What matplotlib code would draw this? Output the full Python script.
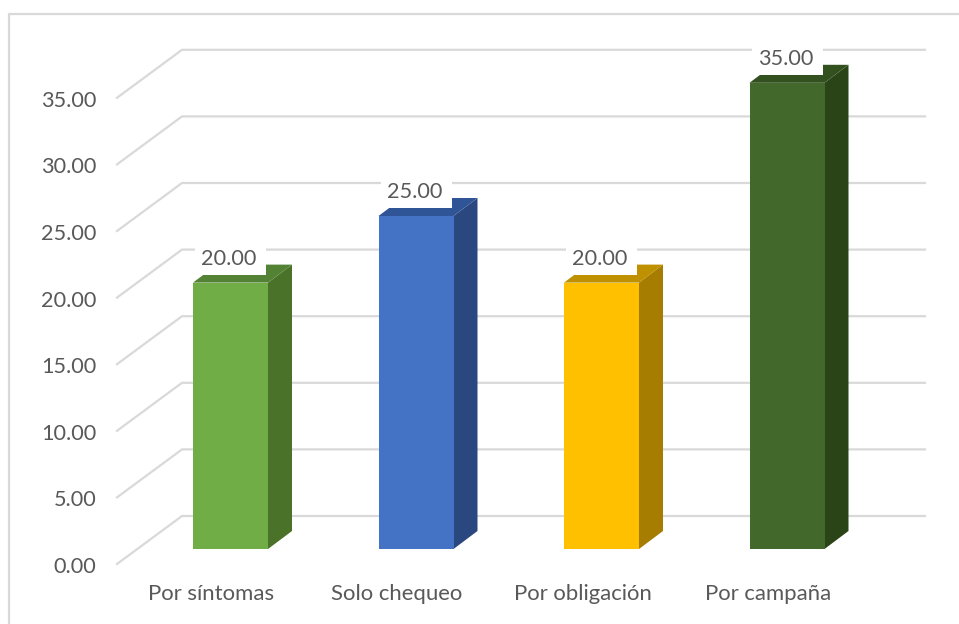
import matplotlib
matplotlib.use("Agg")
import matplotlib.pyplot as plt
from matplotlib.patches import Polygon, Rectangle

categories = ["Por síntomas", "Solo chequeo", "Por obligación", "Por campaña"]
values = [20, 25, 20, 35]
front_colors = ["#70AD47", "#4472C4", "#FFC000", "#43682B"]
side_colors = ["#4A7229", "#2A4780", "#A67D00", "#2A4418"]
top_colors = ["#548235", "#2F5597", "#BF9000", "#33501F"]
y_ticks = [0, 5, 10, 15, 20, 25, 30, 35]

W, H = 959, 624
X_UNIT = 185.5   # px per category
Y_UNIT = 13.32   # px per value
X0 = 230.5       # px of first category
Y0 = 549         # px of value 0 at bar front

plt.rcParams["font.family"] = ["Lato", "DejaVu Sans"]

fig = plt.figure(figsize=(W / 100, H / 100), dpi=100)
ax = fig.add_axes([0, 0, 1, 1])
ax.set_xlim(-X0 / X_UNIT, (W - X0) / X_UNIT)
ax.set_ylim((Y0 - H) / Y_UNIT, Y0 / Y_UNIT)
ax.axis("off")


def px_x(n):
    return n / X_UNIT


def px_y(n):
    return n / Y_UNIT


half = px_x(37.5)
dx = px_x(24)
dy = px_y(18)
wall_left = px_x(117 - X0)
wall_back = px_x(182 - X0)
wall_right = px_x(925 - X0)
front_shift = px_y(-15)
back_shift = px_y(33)

# outer frame of the picture
ax.plot([px_x(9 - X0), px_x(9 - X0), px_x(W - X0)],
        [(Y0 - H) / Y_UNIT, (Y0 - 13.5) / Y_UNIT, (Y0 - 13.5) / Y_UNIT],
        color="#D9D9D9", lw=1.6, zorder=1)

# gridlines on side wall and back wall
for t in y_ticks:
    ax.plot([wall_left, wall_back, wall_right],
            [t + front_shift, t + back_shift, t + back_shift],
            color="#D9D9D9", lw=1.6, zorder=1, solid_joinstyle="miter")
    ax.text(px_x(96.5 - X0), t + front_shift - px_y(3), f"{t:.2f}", ha="right", va="center",
            fontsize=15.6, color="#595959", zorder=5)

for i, v in enumerate(values):
    l, r = i - half, i + half
    ax.add_patch(Polygon([(r, 0), (r + dx, dy), (r + dx, v + dy), (r, v)],
                         color=side_colors[i], lw=0, zorder=2))
    ax.add_patch(Polygon([(l, v), (l + dx, v + dy), (r + dx, v + dy), (r, v)],
                         color=top_colors[i], lw=0, zorder=2))
    ax.add_patch(Rectangle((l, 0), 2 * half, v, color=front_colors[i], lw=0, zorder=3))
    # white box behind the data label hides part of the top face
    ax.add_patch(Rectangle((l + px_x(2), v + px_y(8)), 2 * half - px_x(4), px_y(27),
                           facecolor="white", lw=0, zorder=4))
    ax.text(i - px_x(1.5), v + px_y(23.5), f"{v:.2f}", ha="center", va="center",
            fontsize=15.6, color="#595959", zorder=5)
    ax.text(i - px_x(19), px_y(-45), categories[i], ha="center", va="center",
            fontsize=15.9, color="#595959", zorder=5)

fig.savefig("out.png", dpi=100)
